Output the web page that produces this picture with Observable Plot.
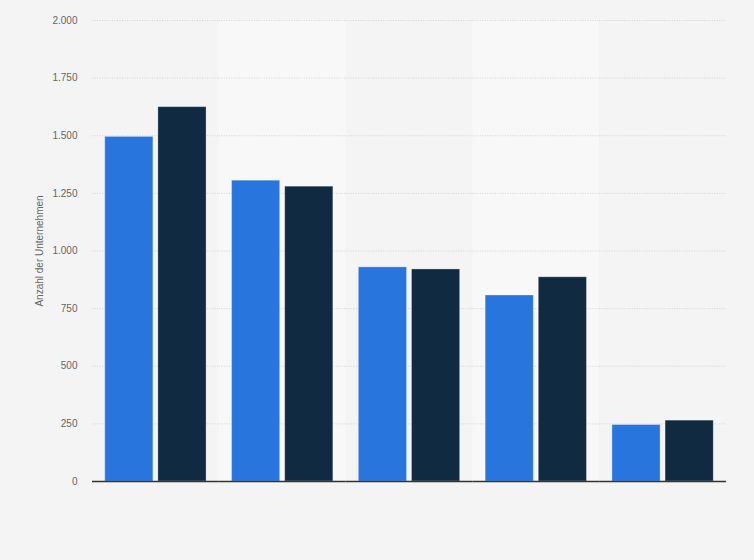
<!DOCTYPE html>
<html>
<head>
<meta charset="utf-8">
<script src="https://cdn.jsdelivr.net/npm/d3@7"></script>
<script src="https://cdn.jsdelivr.net/npm/@observablehq/plot@0.6"></script>
<style>
  html, body { margin: 0; padding: 0; background: #f4f4f4; }
  #chart { width: 754px; height: 560px; }
</style>
</head>
<body>
<div id="chart"></div>
<script>
const categories = ["Kategorie 1", "Kategorie 2", "Kategorie 3", "Kategorie 4", "Kategorie 5"];
const seriesNames = ["Serie 1", "Serie 2"];
const series1 = [1495, 1305, 929, 807, 245];
const series2 = [1624, 1279, 920, 886, 264];
const yTicks = [0, 250, 500, 750, 1000, 1250, 1500, 1750, 2000];
const seriesColors = ["#2876dd", "#0f2a41"];

const data = [];
categories.forEach((c, i) => {
  data.push({cat: c, series: seriesNames[0], value: series1[i]});
  data.push({cat: c, series: seriesNames[1], value: series2[i]});
});
const bands = categories.map((c, i) => ({cat: c, light: i % 2 === 1}));

const de = d3.formatLocale({decimal: ",", thousands: ".", grouping: [3], currency: ["", " €"]});
const fmt = de.format(",d");

const chart = Plot.plot({
  width: 754,
  height: 560,
  marginLeft: 92,
  marginRight: 28,
  marginTop: 20,
  marginBottom: 79,
  style: {background: "#f4f4f4", fontFamily: "Liberation Sans, Arial, sans-serif", fontSize: "10px", color: "#666"},
  fx: {domain: categories, paddingInner: 0, paddingOuter: 0, round: false, axis: null},
  x: {domain: seriesNames, paddingInner: 0.094, paddingOuter: 0.24, round: false, axis: null},
  y: {domain: [0, 2000], ticks: yTicks, tickFormat: fmt, tickSize: 0, tickPadding: 15,
      label: "Anzahl der Unternehmen", labelAnchor: "center", labelOffset: 57, labelArrow: false},
  color: {domain: seriesNames, range: seriesColors},
  marks: [
    Plot.rect(bands, {fx: "cat", y1: 0, y2: 2000, fill: d => d.light ? "#f8f8f8" : "#f4f4f4"}),
    Plot.ruleY(yTicks.filter(t => t > 0), {stroke: "#d4d4d4", strokeDasharray: "1,1.5", strokeWidth: 1}),
    Plot.barY(data, {fx: "cat", x: "series", y: "value", fill: "series", stroke: "#ffffff", strokeOpacity: 0.3, strokeWidth: 1}),
    Plot.ruleY([0], {stroke: "#333", strokeWidth: 1.5})
  ]
});
document.getElementById("chart").appendChild(chart);
</script>
</body>
</html>
